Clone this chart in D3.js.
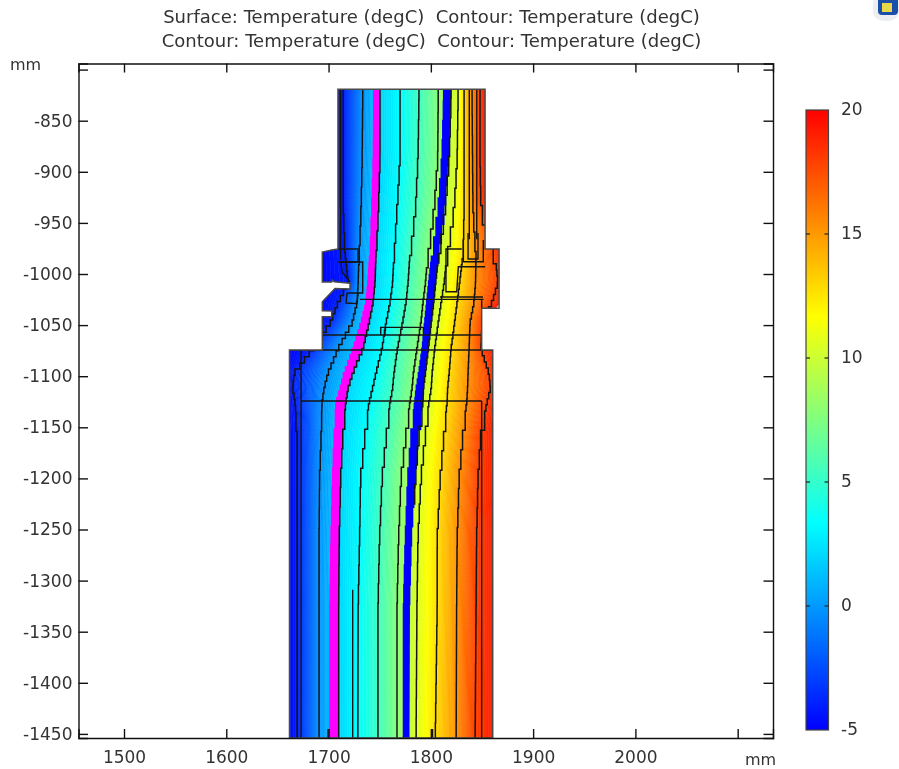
<!DOCTYPE html>
<html>
<head>
<meta charset="utf-8">
<style>
html,body{margin:0;padding:0;background:#fff;overflow:hidden}
svg{display:block;filter:blur(0.35px)}
text{font-family:"DejaVu Sans",sans-serif;fill:#333;white-space:pre}
</style>
<script src="https://cdn.jsdelivr.net/npm/d3@7"></script>
</head>
<body>
<div id="chart"></div>
<script>
// ---- data (millimetres, degC) ----
const titleLines = ["Surface: Temperature (degC)  Contour: Temperature (degC)",
                    "Contour: Temperature (degC)  Contour: Temperature (degC)"];
const xTicks = [1500,1600,1700,1800,1900,2000,2100];
const yTicks = [-800,-850,-900,-950,-1000,-1050,-1100,-1150,-1200,-1250,-1300,-1350,-1400,-1450];
const colorTicks = [-5,0,5,10,15,20];
const unlabelled = [-800,2100];
const unit = "mm";

const yRows = [-820,-879,-928,-977,-1006,-1025,-1045,-1070,-1094,-1109,-1123,-1153,-1192,-1251,-1319,-1454];
const isoLevels = [-5,-4,-0.2,0.9,2,3.2,5.3,7.6,8.6,9.6,10.5,12.7,15.2,17.8,19.2];
const isoA = [1704.4,1704.4,1704.4,1689.7,1689.7,1689.7,1691.7,1657.6,1657.6,1657.6,1657.6,1657.6,1657.6,1657.6,1657.6,1657.6];
const isoB = [1714.4,1714.4,1714.4,1716.2,1719.1,1709.4,1701.6,1684.9,1666.4,1664.9,1667.3,1669.3,1669.3,1669.3,1669.3,1669.3];
const isoC = [1733.4,1732.8,1731.8,1729.8,1728.9,1727.9,1723,1709.4,1699.5,1695.6,1693.6,1692.6,1691.2,1690.7,1690.7,1690.7];
const isoD = [1743.5,1743,1741.5,1739.6,1737.6,1735.7,1730.8,1723,1714.3,1710.4,1706.5,1704.6,1703.1,1701.6,1700.6,1700.6];
const isoE = [1750.3,1750.3,1748.8,1746.4,1745.4,1743.5,1739.6,1733.7,1723.7,1719.1,1716.9,1713.8,1711.8,1710.4,1709.9,1709.9];
const isoF = [1769.9,1769.9,1766.9,1764,1762.6,1760.1,1756.2,1752.3,1746.4,1743,1739.6,1735.2,1731.3,1730.3,1728.9,1728.6];
const isoG = [1788.4,1787.4,1785,1779.6,1777.7,1775.7,1772.3,1767.4,1764,1762.6,1760.1,1756.2,1752.3,1749.8,1748.3,1748.3];
const isoH = [1807.2,1806.7,1803.3,1797.1,1794.7,1792.3,1790.3,1786.4,1783,1781.6,1779.6,1775.2,1770.8,1768.4,1766.9,1766.9];
const isoI = [1811.8,1810.1,1806.3,1800.4,1797.1,1795.2,1793.2,1790.8,1787.4,1784.9,1783.5,1779.6,1776.7,1774.3,1772.5,1772.5];
const isoJ = [1819.8,1817.9,1814,1807.8,1804.7,1802.8,1800.4,1797.6,1794.7,1792.8,1792.3,1787.9,1785,1781.6,1779.6,1779.1];
const isoK = [1826.6,1825.7,1822.8,1815.9,1813,1810.1,1807.2,1803.8,1801.3,1800.4,1798.1,1794.2,1790.3,1787.4,1786.4,1785.5];
const isoL = [1832.5,1832.5,1832.5,1831.5,1828.1,1825.7,1823.2,1819.8,1817.9,1816.4,1815.9,1812.5,1809.1,1806.2,1806.2,1804.2];
const isoM = [1840.3,1840.8,1841.2,1844.2,1843.7,1842.2,1838.3,1837.4,1836.4,1835.9,1835.1,1831,1827.6,1825.7,1825.2,1824.7];
const isoN = [1848.1,1848.1,1849,1862.7,1865.6,1859.8,1850,1849,1856.8,1858.3,1854.9,1848.6,1846.1,1844.7,1844.2,1843.2];
const isoO = [1853.9,1853.9,1854.9,1870.5,1870.5,1870.5,1853.9,1864.6,1864.6,1864.6,1864.6,1864.6,1864.6,1864.6,1864.6,1864.6];

const outline = [[1709.2,-819.3],[1853,-819.3],[1853,-975.5],[1866.7,-975.5],[1866.7,-1033.6],[1849.7,-1033.6],
 [1849.7,-1074.4],[1860.5,-1074.4],[1860.5,-1454],[1661.8,-1454],[1661.8,-1074.4],[1693.9,-1074.4],[1693.9,-1041.8],
 [1703.1,-1041.8],[1703.1,-1036.2],[1693.9,-1035.9],[1693.9,-1027.1],[1706.3,-1014.2],[1721,-1014.7],[1721,-1009.1],
 [1705.6,-1007.5],[1703.7,-1005.9],[1703.1,-1007.8],[1693.9,-1007.8],[1693.9,-978.5],[1703.1,-976.5],[1709.2,-975.5]];

const structures = [
 [[1693.9,-1059.7],[1849.7,-1059.7]],
 [[1730.8,-1024.8],[1851.5,-1024.8]],
 [[1809,-1022.5],[1851,-1022.5]],
 [[1661.8,-1074.4],[1860.5,-1074.4]],
 [[1673.1,-1124.3],[1849.7,-1124.3]],
 [[1673.1,-1074.4],[1673.1,-1454]],
 [[1849.7,-1124.3],[1849.7,-1454]],
 [[1723.6,-1309],[1723.6,-1454]],
 [[1699.5,-1445.2],[1699.5,-1454]],
 [[1801.7,-1445.2],[1801.7,-1454]],
 [[1751,-1059.7],[1751,-1052.2],[1792.7,-1052.2],[1792.7,-1059.7]],
 [[1755.2,-1059.7],[1755.2,-1052.2]],
 [[1711.9,-819.3],[1711.9,-986]],
 [[1837.6,-819.3],[1837.6,-966]],
 [[1844.9,-819.3],[1844.9,-966]],
 [[1709.2,-975.5],[1728.8,-975.5],[1728.8,-988.3],[1709.2,-988.3]],
 [[1711.2,-988.3],[1733.4,-988.3],[1733.4,-1018.6],[1718,-1018.6]],
 [[1718,-1018.6],[1717.1,-1028.4],[1727.8,-1029],[1728.8,-1018.6]],
 [[1712.2,-988.3],[1713.2,-998],[1721,-1007.8]],
 [[1830.2,-975.5],[1814.8,-975.5],[1814.8,-1017.3],[1825.3,-1017.3],[1826.9,-992.9],[1853,-992.9]],
 [[1831.8,-966.7],[1831.8,-988],[1851.3,-988],[1851.3,-966.7]],
 [[1836.4,-960],[1836.4,-985.3],[1846.1,-985.3],[1846.1,-960]],
 [[1849.7,-1024.8],[1849.7,-1033.6]]
];
const colorStops = [-5,3.33,11.67,20];
const colorValues = ["#0000ff","#00ffff","#ffff00","#ff0000"];
const magentaBand = [0.9,2];
const blueBand = [8.6,9.6];
const partialLine = [9.6,-1241];

// ---- scaffolding ----
const W=899,H=769;
const box={l:78.5,r:773,t:63.5,b:738};
const pxPerMm=1.0228, pxPerMmY=1.022;
const x=d3.scaleLinear().domain([1500-(124-box.l)/pxPerMm,1500+(box.r-124)/pxPerMm]).range([box.l,box.r]);
const y=d3.scaleLinear().domain([-850+(120.7-box.t)/pxPerMmY,-850-(box.b-120.7)/pxPerMmY]).range([box.t,box.b]);
const color=d3.scaleLinear().domain(colorStops).range(colorValues).clamp(true);

const svg=d3.select("#chart").append("svg").attr("width",W).attr("height",H);
const defs=svg.append("defs");
const line=d3.line().x(d=>x(d[0])).y(d=>y(d[1]));

defs.append("clipPath").attr("id","shape").append("path").attr("d",line(outline)+"Z");

// titles
svg.selectAll("text.title").data(titleLines).join("text").attr("class","title")
  .attr("x",431.5).attr("y",(d,i)=>23+i*24).attr("text-anchor","middle").attr("font-size",18.05).text(d=>d);

// field
const isos=[isoA,isoB,isoC,isoD,isoE,isoF,isoG,isoH,isoI,isoJ,isoK,isoL,isoM,isoN,isoO]
  .map(v=>d3.scaleLinear().domain(yRows).range(v).clamp(true));

const yTop=-815,yBottom=-1456;
const fine=d3.range(yTop,yBottom,-4).concat([yBottom]);
function stepped(f,phase){
  // isotherms on the coarse mesh run as short vertical pieces with small jogs
  const pts=[]; let yy=yTop+phase;
  while(yy>yBottom){
    const inNeck=yy<-975&&yy>-1130;
    const next=yy-(inNeck?6:19);
    pts.push([f(yy),yy],[f(yy),next]);
    yy=next;
  }
  return pts;
}
const field=svg.append("g").attr("clip-path","url(#shape)");
isos.slice(0,-1).forEach((a,i)=>{
  const b=isos[i+1],t0=isoLevels[i],t1=isoLevels[i+1];
  const n=Math.max(2,Math.ceil((t1-t0)/0.15));
  d3.range(n).forEach(j=>{
    const u0=j/n,u1=(j+1)/n,tm=t0+(t1-t0)*(j+.5)/n;
    const left=fine.map(v=>[a(v)+(b(v)-a(v))*u0,v]);
    const right=fine.map(v=>[a(v)+(b(v)-a(v))*u1,v]).reverse();
    field.append("path").attr("d",line(left.concat(right))+"Z")
      .attr("fill",color(tm)).attr("stroke",color(tm)).attr("stroke-width",.6);
  });
});
// wide highlighted contours (magenta and blue)
[[magentaBand,"#ff00ff"],[blueBand,"#0000ff"]].forEach(([band,col])=>{
  const a=isos[isoLevels.indexOf(band[0])],b=isos[isoLevels.indexOf(band[1])];
  const pa=stepped(a,4),pb=stepped(b,15).reverse();
  field.append("path").attr("d",line(pa.concat(pb))+"Z").attr("fill",col);
});
// black contour lines
isoLevels.forEach((lev,i)=>{
  if(i===0||i===isoLevels.length-1||lev===magentaBand[0]||lev===blueBand[0]) return;
  let pts=stepped(isos[i],(i*7)%19);
  if(lev===partialLine[0]) pts=pts.filter(p=>p[1]>partialLine[1]);
  field.append("path").attr("d",line(pts)).attr("fill","none").attr("stroke","#141414").attr("stroke-width",1.5);
});
// domain boundaries
field.selectAll("path.st").data(structures).join("path").attr("class","st")
  .attr("d",line).attr("fill","none").attr("stroke","#141414").attr("stroke-width",1.4);
svg.append("path").attr("d",line(outline)+"Z").attr("fill","none").attr("stroke","#4a4a4a").attr("stroke-width",1.5);

// axes
const fmt=d=>unlabelled.includes(d)?"":String(d);
const axes=[
 [d3.axisBottom(x).tickValues(xTicks).tickSize(-9).tickPadding(13).tickFormat(fmt),0,box.b],
 [d3.axisLeft(y).tickValues(yTicks).tickSize(-9.5).tickPadding(6).tickFormat(fmt),box.l,0],
 [d3.axisTop(x).tickValues(xTicks).tickSize(-9).tickFormat(""),0,box.t],
 [d3.axisRight(y).tickValues(yTicks).tickSize(-9.5).tickFormat(""),box.r,0]
];
axes.forEach(([ax,tx,ty])=>{
  const g=svg.append("g").attr("transform",`translate(${tx},${ty})`).call(ax);
  g.selectAll("path.domain,line").attr("stroke","#111").attr("stroke-width",1.4);
  g.selectAll("text").attr("font-size",17).attr("font-family",'"DejaVu Sans",sans-serif').attr("fill","#333");
});
svg.append("text").attr("x",10).attr("y",70).attr("font-size",16).text(unit);
svg.append("text").attr("x",745).attr("y",765).attr("font-size",16).text(unit);

// colour bar
const barX=806,barW=22.5;
const c=d3.scaleLinear().domain([-5,20]).range([730,110]);
const grad=defs.append("linearGradient").attr("id","rainbow").attr("x1",0).attr("x2",0).attr("y1",1).attr("y2",0);
grad.selectAll("stop").data(colorStops).join("stop")
  .attr("offset",d=>(d+5)/25).attr("stop-color",d=>color(d));
svg.append("rect").attr("x",barX).attr("y",c(20)).attr("width",barW).attr("height",c(-5)-c(20))
  .attr("fill","url(#rainbow)").attr("stroke","#444").attr("stroke-width",1.2);
const inner=colorTicks.filter(d=>d>-5&&d<20);
svg.selectAll("line.cl").data(inner).join("line").attr("class","cl")
  .attr("x1",barX).attr("x2",barX+4).attr("y1",c).attr("y2",c).attr("stroke","#222").attr("stroke-width",1.2);
svg.selectAll("line.cr").data(inner).join("line").attr("class","cr")
  .attr("x1",barX+barW-4).attr("x2",barX+barW).attr("y1",c).attr("y2",c).attr("stroke","#222").attr("stroke-width",1.2);
svg.selectAll("text.ct").data(colorTicks).join("text").attr("class","ct")
  .attr("x",841).attr("y",d=>c(d)+5).attr("font-size",17).text(d=>d);

// application icon, top right
const icon=svg.append("g");
icon.append("rect").attr("x",873).attr("y",-6).attr("width",26).attr("height",27).attr("rx",10).attr("fill","#eceef1");
icon.append("rect").attr("x",878).attr("y",-4).attr("width",20).attr("height",19).attr("rx",4).attr("fill","#1c4fa8");
icon.append("rect").attr("x",882).attr("y",3).attr("width",10).attr("height",9).attr("fill","#e8d84a");
</script>
</body>
</html>
